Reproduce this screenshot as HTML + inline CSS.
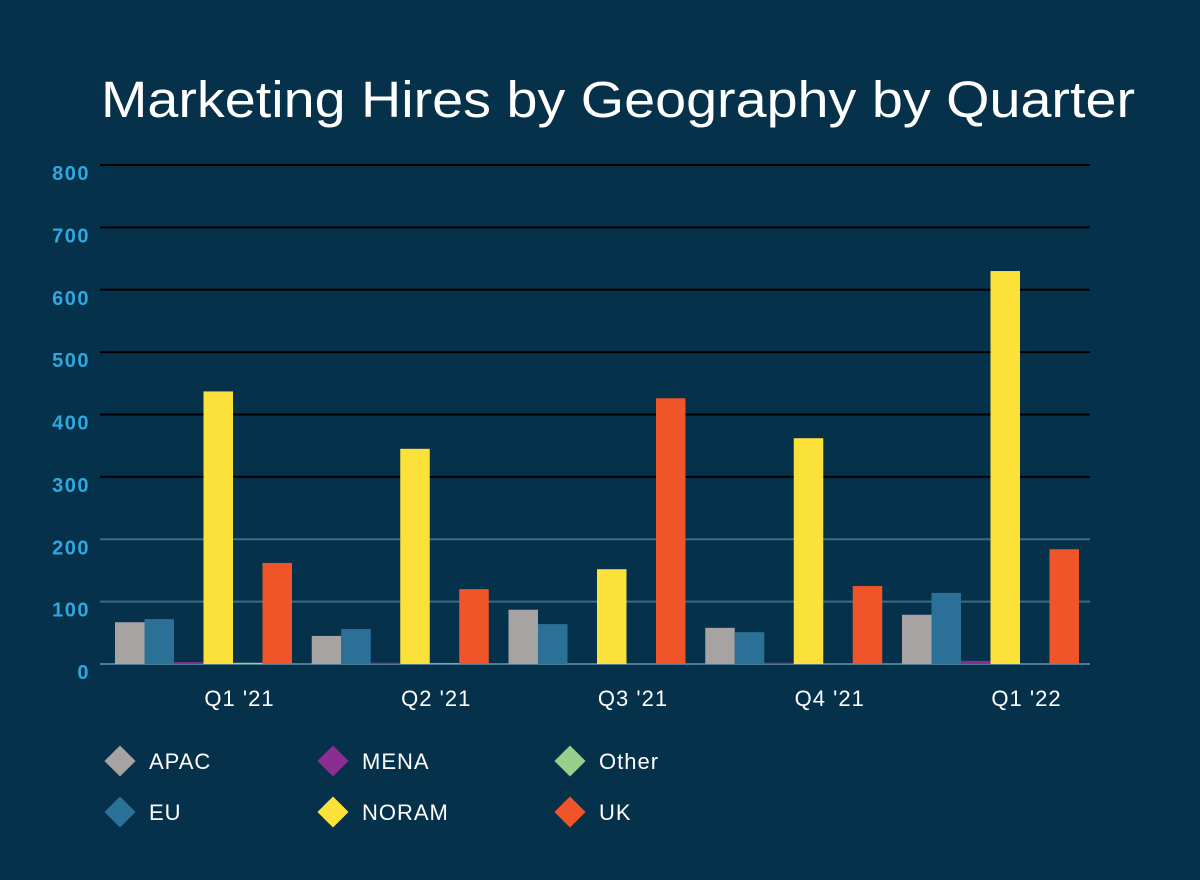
<!DOCTYPE html>
<html><head><meta charset="utf-8">
<style>
html,body{margin:0;padding:0;background:#06314a;}
svg{display:block;font-family:"Liberation Sans",sans-serif;}
</style></head><body>
<svg id="chart" width="1200" height="880" xmlns="http://www.w3.org/2000/svg">
<rect width="1200" height="880" fill="#06314a"/>
<text x="101" y="117" textLength="1034" lengthAdjust="spacingAndGlyphs" fill="#ffffff" font-size="51">Marketing Hires by Geography by Quarter</text>
<g id="grid"></g><g id="bars"></g><g id="labels"></g><g id="legend"></g>
</svg>
<script>
const categories=["Q1 '21","Q2 '21","Q3 '21","Q4 '21","Q1 '22"];
const seriesNames=["APAC","EU","MENA","NORAM","Other","UK"];
const apac=[67,45,87,58,79];
const eu=[72,56,64,51,114];
const mena=[3,2,0,2,5];
const noram=[437,345,152,362,630];
const other=[2,1,0,0,0];
const uk=[162,120,426,125,184];
const yTicks=[0,100,200,300,400,500,600,700,800];
const colors=["#a7a3a2","#2a7097","#8a2f8f","#fde13b","#97cf8b","#f0552a"];
const series=[apac,eu,mena,noram,other,uk];
const NS="http://www.w3.org/2000/svg";
const x0=100,x1=1090,y0=664,yTop=165,maxV=800;
const y=v=>y0-(v/maxV)*(y0-yTop);
const groupW=196.75, barW=29.5, pad=15;
function mk(tag,attrs,parent){const e=document.createElementNS(NS,tag);for(const k in attrs)e.setAttribute(k,attrs[k]);parent.appendChild(e);return e;}
const grid=document.getElementById('grid');
yTicks.forEach(t=>{
  const l=mk('line',{x1:x0,x2:x1,y1:y(t),y2:y(t),stroke:t===0?'#4d7d96':(t<=200?'#3a6a85':'#000000'),'stroke-width':2},grid);
  
  
  const tx=mk('text',{x:90,y:y(t)+15,'text-anchor':'end',fill:'#2fa8e0','font-size':20,'font-weight':'bold','letter-spacing':1.5},grid);
  tx.textContent=t;
  
  
});
const bars=document.getElementById('bars');
categories.forEach((c,i)=>{
  series.forEach((s,j)=>{
    const v=s[i];
    const r=mk('rect',{x:x0+i*groupW+pad+j*barW,y:y(v),width:barW,height:y0-y(v),fill:colors[j]},bars);
    
    
  });
  const tx=mk('text',{x:x0+i*groupW+pad+3*barW+36,y:706,'text-anchor':'middle',fill:'#ffffff','font-size':22,'letter-spacing':1},document.getElementById('labels'));
  tx.textContent=c;
  
  
});
const legend=document.getElementById('legend');
const pos=[[120,761],[120,812],[333,761],[333,812],[570,761],[570,812]];
seriesNames.forEach((n,j)=>{
  const [cx,cy]=pos[j];
  const g=mk('g',{},legend);
  
  
  mk('rect',{x:cx-11,y:cy-11,width:22,height:22,fill:colors[j],transform:`rotate(45 ${cx} ${cy})`},g);
  const t=mk('text',{x:cx+29,y:cy+8,fill:'#ffffff','font-size':22,'letter-spacing':1},g);
  t.textContent=n;
});
</script>
</body></html>
